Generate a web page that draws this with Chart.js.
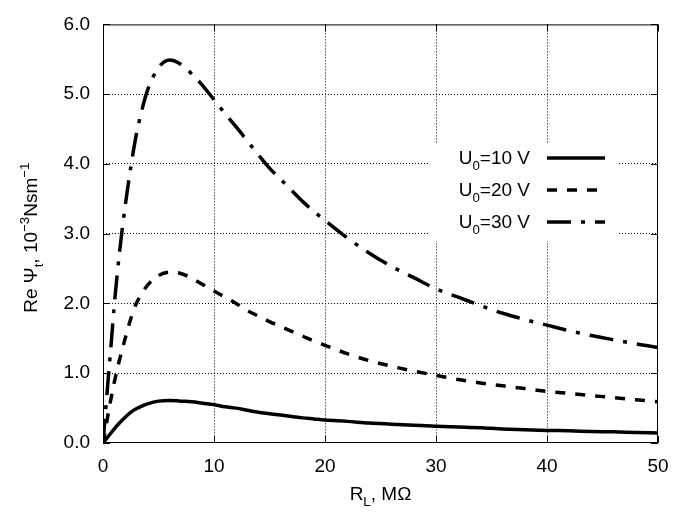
<!DOCTYPE html>
<html>
<head>
<meta charset="utf-8">
<script src="https://cdn.jsdelivr.net/npm/chart.js@4"></script>
<style>
    html, body { margin: 0; padding: 0; background: #fff; }
    #wrap { width: 685px; height: 512px; }
</style>
</head>
<body>
<div id="wrap"><canvas id="psiChart" width="685" height="512"></canvas></div>
<script>
// ==============================
// DATA
// ==============================
const rl = [0, 0.25, 0.5, 0.75, 1, 1.5, 2, 2.5, 3, 3.5, 4, 5, 6, 7, 8, 9, 10, 11, 12, 13, 14, 15, 16, 17, 18, 19, 20,
    22, 24, 26, 28, 30, 32, 34, 36, 38, 40, 42, 44, 46, 48, 50];

const psi10 = [0, 0.05, 0.1, 0.15, 0.2, 0.29, 0.37, 0.44, 0.49, 0.53, 0.56, 0.6, 0.61, 0.6, 0.59, 0.57, 0.55, 0.52, 0.5,
    0.47, 0.44, 0.42, 0.4, 0.38, 0.36, 0.345, 0.33, 0.31, 0.285, 0.27, 0.255, 0.24, 0.23, 0.22, 0.2, 0.19, 0.18, 0.175,
    0.165, 0.16, 0.15, 0.145];

const psi20 = [0, 0.22, 0.45, 0.66, 0.86, 1.2, 1.5, 1.78, 2.0, 2.14, 2.26, 2.4, 2.45, 2.43, 2.36, 2.27, 2.18, 2.09, 2.0,
    1.9, 1.82, 1.74, 1.67, 1.6, 1.53, 1.46, 1.4, 1.28, 1.18, 1.1, 1.03, 0.97, 0.91, 0.86, 0.82, 0.78, 0.74, 0.71, 0.68,
    0.65, 0.62, 0.59];

const psi30 = [0, 0.5, 0.98, 1.45, 1.95, 2.75, 3.4, 3.95, 4.42, 4.77, 5.05, 5.38, 5.49, 5.43, 5.29, 5.12, 4.92, 4.72,
    4.53, 4.33, 4.13, 3.94, 3.78, 3.62, 3.46, 3.32, 3.19, 2.94, 2.72, 2.53, 2.37, 2.21, 2.09, 1.97, 1.86, 1.77, 1.69,
    1.61, 1.54, 1.48, 1.42, 1.37];

const seriesNames = ["10 V", "20 V", "30 V"];
const xTicks = [0, 10, 20, 30, 40, 50];
const yTicks = ["0.0", "1.0", "2.0", "3.0", "4.0", "5.0", "6.0"];

const FONT = "'Liberation Sans', Arial, Helvetica, sans-serif";
const FS = 19;

function pts(values) {
    return rl.map((x, i) => ({ x: x, y: values[i] }));
}

// ==============================
// RICH TEXT (sub / superscripts)
// ==============================
function richWidth(ctx, parts) {
    let w = 0;
    parts.forEach(p => {
        const size = p.s ? FS * 0.7 : FS;
        ctx.font = size + "px " + FONT;
        w += ctx.measureText(p.t).width;
    });
    return w;
}

function drawRich(ctx, parts, x, y, align) {
    const w = richWidth(ctx, parts);
    let cx = x;
    if (align === "center") cx = x - w / 2;
    if (align === "right") cx = x - w;
    ctx.textAlign = "left";
    ctx.textBaseline = "alphabetic";
    parts.forEach(p => {
        const size = p.s ? FS * 0.7 : FS;
        ctx.font = size + "px " + FONT;
        let dy = 0;
        if (p.s === "sub") dy = FS * 0.3;
        if (p.s === "sup") dy = -FS * 0.42;
        ctx.fillText(p.t, cx, y + dy);
        cx += ctx.measureText(p.t).width;
    });
}

// ==============================
// GNUPLOT LOOK (frame, ticks, key, titles)
// ==============================
const gnuplotStyle = {
    id: "gnuplotStyle",
    beforeDatasetsDraw(chart) {
        const ctx = chart.ctx;
        ctx.save();
        ctx.fillStyle = "#fff";
        ctx.fillRect(428, 143, 189, 98);
        ctx.restore();
    },
    afterDraw(chart) {
        const ctx = chart.ctx;
        const a = chart.chartArea;
        const xs = chart.scales.x;
        const ys = chart.scales.y;

        ctx.save();
        ctx.strokeStyle = "#000";
        ctx.lineWidth = 1;
        ctx.strokeRect(a.left + 0.5, a.top + 0.5, a.right - a.left - 1, a.bottom - a.top - 1);

        // inward ticks on all four sides
        ctx.beginPath();
        xTicks.forEach(v => {
            const px = Math.round(xs.getPixelForValue(v)) + 0.5;
            ctx.moveTo(px, a.bottom); ctx.lineTo(px, a.bottom - 7);
            ctx.moveTo(px, a.top); ctx.lineTo(px, a.top + 7);
        });
        yTicks.forEach((t, i) => {
            const py = Math.round(ys.getPixelForValue(i)) + 0.5;
            ctx.moveTo(a.left, py); ctx.lineTo(a.left + 7, py);
            ctx.moveTo(a.right, py); ctx.lineTo(a.right - 7, py);
        });
        ctx.stroke();

        // key
        ctx.fillStyle = "#000";
        chart.data.datasets.forEach((ds, i) => {
            const ly = 158 + i * 32;
            drawRich(ctx, [{ t: "U" }, { t: "0", s: "sub" }, { t: "=" + seriesNames[i] }], 530, ly + 6, "right");
            ctx.beginPath();
            ctx.lineWidth = ds.borderWidth;
            ctx.setLineDash(ds.borderDash || []);
            ctx.moveTo(547, ly);
            ctx.lineTo(605, ly);
            ctx.stroke();
        });
        ctx.setLineDash([]);

        // axis titles
        drawRich(ctx, [{ t: "R" }, { t: "L", s: "sub" }, { t: ", M\u03A9" }], (a.left + a.right) / 2, 500, "center");

        ctx.translate(37, (a.top + a.bottom) / 2 + 4);
        ctx.rotate(-Math.PI / 2);
        drawRich(ctx, [
            { t: "Re \u03A8" }, { t: "t", s: "sub" }, { t: ", 10" }, { t: "\u22123", s: "sup" },
            { t: "Nsm" }, { t: "\u22121", s: "sup" }
        ], 0, 0, "center");
        ctx.restore();
    }
};

// ==============================
// CHART
// ==============================
const dotted = [1, 2];

new Chart(document.getElementById("psiChart"), {
    type: "line",
    data: {
        datasets: [
            { label: "U0=10 V", data: pts(psi10), borderColor: "#000", borderWidth: 3.5, borderDash: [] },
            { label: "U0=20 V", data: pts(psi20), borderColor: "#000", borderWidth: 3.5, borderDash: [10, 10] },
            { label: "U0=30 V", data: pts(psi30), borderColor: "#000", borderWidth: 3.5, borderDash: [24, 10, 4, 10] }
        ]
    },
    options: {
        responsive: false,
        animation: false,
        events: [],
        layout: { padding: { top: 15, right: 27, left: 0, bottom: 0 } },
        elements: {
            point: { radius: 0 },
            line: { cubicInterpolationMode: "monotone", fill: false }
        },
        plugins: {
            legend: { display: false },
            tooltip: { enabled: false }
        },
        scales: {
            x: {
                type: "linear",
                min: 0,
                max: 50,
                afterBuildTicks: (s) => { s.ticks = xTicks.map(v => ({ value: v })); },
                afterFit: (s) => { s.height = 69; },
                grid: {
                    drawTicks: false,
                    color: (c) => (c.tick && (c.tick.value === 0 || c.tick.value === 50)) ? "rgba(0,0,0,0)" : "#000",
                    lineWidth: 1
                },
                border: { display: false, dash: dotted },
                ticks: {
                    padding: 12,
                    color: "#000",
                    font: { family: FONT, size: FS },
                    maxRotation: 0
                }
            },
            y: {
                min: 0,
                max: 6,
                afterBuildTicks: (s) => { s.ticks = yTicks.map((t, i) => ({ value: i })); },
                afterFit: (s) => { s.width = 103; },
                grid: {
                    drawTicks: false,
                    color: (c) => (c.tick && (c.tick.value === 0 || c.tick.value === 6)) ? "rgba(0,0,0,0)" : "#000",
                    lineWidth: 1
                },
                border: { display: false, dash: dotted },
                ticks: {
                    padding: 13,
                    color: "#000",
                    font: { family: FONT, size: FS },
                    callback: (v, i) => yTicks[i]
                }
            }
        }
    },
    plugins: [gnuplotStyle]
});
</script>
</body>
</html>
